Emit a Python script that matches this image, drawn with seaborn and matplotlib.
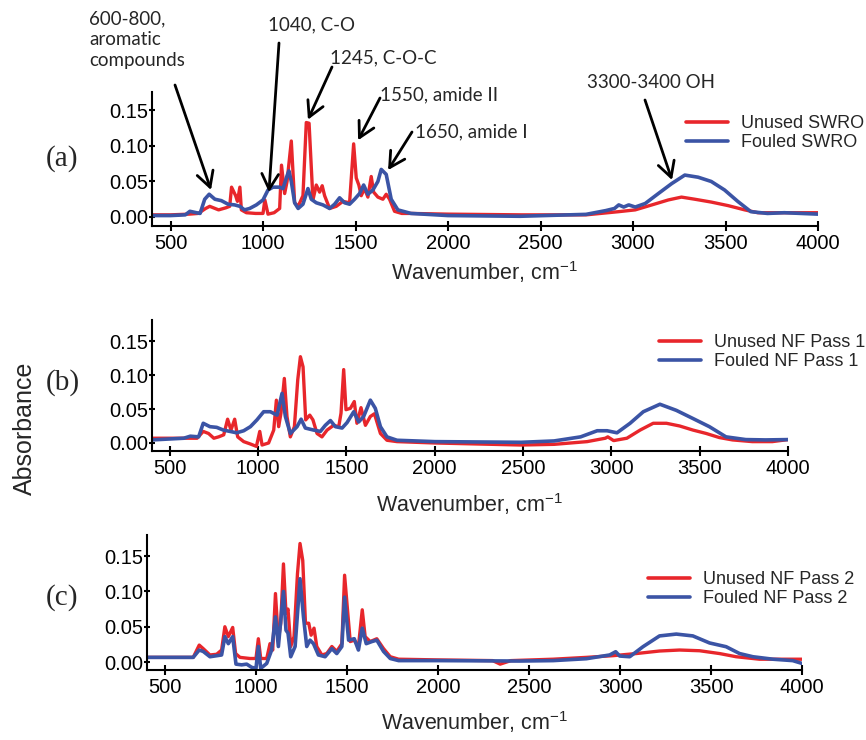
import pandas as pd
import matplotlib
matplotlib.use("Agg")
import matplotlib.pyplot as plt
import seaborn as sns

# ---- data (wavenumber, cm-1 / absorbance) ----
a_unused_wn = [400, 500, 600, 650, 690, 712, 760, 800, 820, 830, 852, 862, 875, 883, 910, 960, 1000,
               1010, 1027, 1060, 1090, 1100, 1117, 1130, 1153, 1171, 1190, 1216, 1234, 1249, 1270,
               1288, 1306, 1320, 1333, 1360, 1396, 1432, 1468, 1490, 1504, 1518, 1531, 1549, 1567,
               1585, 1598, 1621, 1648, 1666, 1684, 1711, 1750, 1800, 2000, 2400, 2746, 2923, 3012,
               3102, 3191, 3262, 3334, 3423, 3514, 3604, 3675, 3818, 4000]
a_unused = [0.003, 0.003, 0.004, 0.005, 0.012, 0.015, 0.010, 0.013, 0.015, 0.042, 0.030, 0.022, 0.042,
            0.010, 0.006, 0.005, 0.005, 0.024, 0.004, 0.006, 0.012, 0.073, 0.033, 0.050, 0.107, 0.020,
            0.015, 0.030, 0.133, 0.132, 0.024, 0.045, 0.035, 0.044, 0.030, 0.012, 0.015, 0.022, 0.020,
            0.103, 0.055, 0.045, 0.030, 0.040, 0.028, 0.057, 0.035, 0.028, 0.025, 0.032, 0.025, 0.008,
            0.005, 0.005, 0.004, 0.003, 0.003, 0.0075, 0.010, 0.017, 0.024, 0.028, 0.025, 0.021, 0.016,
            0.010, 0.006, 0.006, 0.006]

a_fouled_wn = [400, 500, 580, 605, 640, 660, 685, 709, 740, 775, 811, 847, 875, 900, 928, 964, 1000,
               1027, 1054, 1090, 1108, 1130, 1140, 1153, 1171, 1190, 1216, 1243, 1261, 1288, 1324,
               1360, 1387, 1414, 1441, 1468, 1495, 1522, 1544, 1567, 1594, 1621, 1639, 1666, 1693,
               1729, 1800, 2000, 2390, 2746, 2853, 2900, 2923, 2950, 2977, 3012, 3066, 3137, 3209,
               3280, 3352, 3423, 3495, 3566, 3637, 3727, 3818, 4000]
a_fouled = [0.002, 0.002, 0.003, 0.008, 0.006, 0.005, 0.025, 0.032, 0.025, 0.023, 0.018, 0.017, 0.015,
            0.010, 0.012, 0.017, 0.024, 0.038, 0.042, 0.042, 0.040, 0.058, 0.065, 0.050, 0.020, 0.012,
            0.018, 0.040, 0.025, 0.020, 0.017, 0.012, 0.018, 0.027, 0.020, 0.018, 0.025, 0.033, 0.045,
            0.032, 0.038, 0.050, 0.067, 0.060, 0.025, 0.010, 0.005, 0.002, 0.001, 0.0037, 0.009, 0.012,
            0.017, 0.014, 0.017, 0.014, 0.019, 0.033, 0.047, 0.059, 0.056, 0.050, 0.038, 0.022, 0.0075,
            0.005, 0.006, 0.004]

b_unused_wn = [400, 580, 655, 690, 720, 750, 777, 806, 828, 847, 868, 885, 919, 957, 991, 1010, 1023,
               1060, 1089, 1104, 1117, 1130, 1149, 1164, 1183, 1206, 1225, 1240, 1255, 1270, 1293,
               1311, 1334, 1362, 1391, 1428, 1457, 1470, 1485, 1498, 1523, 1545, 1560, 1583, 1608,
               1636, 1659, 1693, 1730, 1787, 2000, 2490, 2676, 2863, 2966, 2980, 3013, 3088, 3163,
               3237, 3312, 3387, 3462, 3537, 3611, 3686, 3798, 3911, 4000]
b_unused = [0.007, 0.007, 0.007, 0.017, 0.014, 0.007, 0.009, 0.012, 0.035, 0.019, 0.035, 0.009, 0.002,
            -0.0015, -0.005, 0.017, -0.003, 0.0, 0.019, 0.063, 0.024, 0.044, 0.095, 0.039, 0.009, 0.024,
            0.093, 0.127, 0.112, 0.034, 0.041, 0.034, 0.014, 0.009, 0.019, 0.026, 0.024, 0.044, 0.108,
            0.049, 0.051, 0.061, 0.029, 0.052, 0.026, 0.039, 0.043, 0.014, 0.004, 0.002, 0.0, -0.003,
            -0.002, 0.002, 0.007, 0.009, 0.0035, 0.007, 0.019, 0.029, 0.029, 0.025, 0.019, 0.014, 0.008,
            0.0045, 0.002, 0.002, 0.005]

b_fouled_wn = [400, 580, 617, 664, 690, 728, 766, 804, 842, 879, 919, 957, 994, 1032, 1070, 1108,
               1136, 1155, 1183, 1221, 1244, 1268, 1315, 1353, 1381, 1410, 1438, 1476, 1504, 1542,
               1570, 1598, 1636, 1664, 1693, 1730, 1787, 2000, 2490, 2676, 2826, 2920, 2976, 3032,
               3106, 3181, 3275, 3368, 3462, 3555, 3649, 3761, 3873, 4000]
b_fouled = [0.0045, 0.007, 0.010, 0.009, 0.029, 0.024, 0.023, 0.019, 0.017, 0.015, 0.018, 0.024, 0.034,
            0.046, 0.046, 0.041, 0.073, 0.039, 0.014, 0.024, 0.035, 0.022, 0.019, 0.017, 0.026, 0.033,
            0.024, 0.022, 0.030, 0.046, 0.031, 0.039, 0.063, 0.051, 0.024, 0.009, 0.004, 0.002, 0.001,
            0.003, 0.009, 0.018, 0.018, 0.015, 0.029, 0.046, 0.057, 0.048, 0.036, 0.024, 0.009, 0.005,
            0.0045, 0.005]

c_unused_wn = [400, 654, 687, 709, 746, 783, 810, 828, 847, 871, 887, 911, 966, 999, 1012, 1025, 1058,
               1076, 1091, 1106, 1122, 1135, 1150, 1164, 1175, 1190, 1208, 1227, 1241, 1256, 1271,
               1289, 1302, 1318, 1333, 1361, 1388, 1416, 1443, 1471, 1486, 1502, 1517, 1539, 1562,
               1583, 1599, 1627, 1663, 1700, 1737, 1783, 2000, 2300, 2341, 2400, 2632, 2815, 2961,
               3089, 3217, 3327, 3437, 3547, 3638, 3766, 3913, 4000]
c_unused = [0.0066, 0.0066, 0.024, 0.019, 0.010, 0.011, 0.017, 0.050, 0.036, 0.049, 0.012, 0.0066, 0.005,
            0.005, 0.033, 0.005, 0.005, 0.026, 0.017, 0.097, 0.031, 0.055, 0.139, 0.069, 0.075, 0.022,
            0.036, 0.125, 0.168, 0.144, 0.055, 0.055, 0.038, 0.048, 0.022, 0.010, 0.012, 0.022, 0.015,
            0.026, 0.123, 0.074, 0.029, 0.031, 0.022, 0.074, 0.036, 0.029, 0.033, 0.019, 0.0075, 0.004,
            0.003, 0.002, -0.003, 0.002, 0.004, 0.0066, 0.009, 0.012, 0.0156, 0.017, 0.016, 0.012,
            0.0075, 0.004, 0.004, 0.004]

c_fouled_wn = [400, 654, 687, 709, 746, 810, 828, 847, 871, 889, 920, 948, 975, 999, 1012, 1025, 1058,
               1085, 1106, 1122, 1150, 1164, 1175, 1190, 1214, 1241, 1260, 1278, 1296, 1315, 1342,
               1379, 1416, 1443, 1471, 1486, 1508, 1539, 1562, 1583, 1605, 1636, 1663, 1700, 1737,
               1783, 2000, 2449, 2632, 2815, 2943, 2976, 2998, 3053, 3126, 3217, 3309, 3400, 3492,
               3583, 3657, 3730, 3840, 3949, 4000]
c_fouled = [0.0066, 0.0066, 0.017, 0.015, 0.0075, 0.010, 0.036, 0.026, 0.036, -0.003, -0.004, -0.003,
            -0.0075, -0.009, 0.022, -0.009, -0.002, 0.017, 0.064, 0.022, 0.100, 0.045, 0.041, 0.0075,
            0.022, 0.118, 0.064, 0.022, 0.031, 0.026, 0.010, 0.0075, 0.019, 0.012, 0.022, 0.092, 0.031,
            0.033, 0.017, 0.048, 0.026, 0.029, 0.031, 0.015, 0.005, 0.002, 0.002, 0.0014, 0.002, 0.0047,
            0.010, 0.0146, 0.0085, 0.0075, 0.0217, 0.037, 0.0396, 0.037, 0.027, 0.0217, 0.012, 0.0075,
            0.004, 0.002, -0.002]

panel_tags = ["(a)", "(b)", "(c)"]
legend_names = [("Unused SWRO", "Fouled SWRO"),
                ("Unused NF Pass 1", "Fouled NF Pass 1"),
                ("Unused NF Pass 2", "Fouled NF Pass 2")]
x_ticks = [500, 1000, 1500, 2000, 2500, 3000, 3500, 4000]
y_ticks = [0.00, 0.05, 0.10, 0.15]

# annotations on panel (a): label, text position (px), arrow tail (px), arrow tip (data)
notes = [("600-800,\naromatic\ncompounds", (89, 10), (175, 85), (719, 0.038)),
         ("1040, C-O", (268, 25), (279, 43), (1032, 0.035)),
         ("1245, C-O-C", (330, 58), (332, 67), (1243, 0.137)),
         ("1550, amide II", (380, 95), (380, 98), (1514, 0.108)),
         ("1650, amide I", (415, 132), (412, 132), (1676, 0.066)),
         ("3300-3400 OH", (587, 82), (645, 100), (3211, 0.052))]

RED = "#e8262b"
BLUE = "#3b54a5"
W, H = 866, 740

sns.set_style("ticks")
plt.rcParams["font.family"] = ["Liberation Sans", "DejaVu Sans"]
plt.rcParams["mathtext.default"] = "regular"

fig = plt.figure(figsize=(W / 100, H / 100), dpi=100)


def fx(px):
    return px / W


def fy(py):
    return 1 - py / H


# axes boxes in pixels: left, top, right, bottom
boxes = [(152, 92, 818, 226), (152, 320, 788, 451), (147, 535, 802, 670)]
ylims = [(-0.0127, 0.176), (-0.0118, 0.181), (-0.0113, 0.180)]
tag_pos = [(62, 159), (63, 383), (62, 598)]
xlabel_base = [280, 512, 730]
legend_at = [(686, 115), (659, 334), (648, 571)]

series = [(a_unused_wn, a_unused, a_fouled_wn, a_fouled),
          (b_unused_wn, b_unused, b_fouled_wn, b_fouled),
          (c_unused_wn, c_unused, c_fouled_wn, c_fouled)]

axes = []
for i, (l, t, r, b) in enumerate(boxes):
    ax = fig.add_axes([fx(l), fy(b), (r - l) / W, (b - t) / H])
    uw, uv, fw, fv = series[i]
    du = pd.DataFrame({"wn": uw, "abs": uv})
    dfl = pd.DataFrame({"wn": fw, "abs": fv})
    sns.lineplot(data=du, x="wn", y="abs", color=RED, lw=2.4, label=legend_names[i][0],
                 ax=ax, sort=False, estimator=None)
    sns.lineplot(data=dfl, x="wn", y="abs", color=BLUE, lw=2.6, label=legend_names[i][1],
                 ax=ax, sort=False, estimator=None)
    ax.set_xlim(400, 4000)
    ax.set_ylim(*ylims[i])
    ax.set_xticks(x_ticks)
    ax.set_yticks(y_ticks)
    ax.set_yticklabels([f"{v:.2f}" for v in y_ticks])
    sns.despine(ax=ax)
    for s in ["left", "bottom"]:
        ax.spines[s].set_linewidth(1.5)
        ax.spines[s].set_color("black")
    ax.tick_params(axis="x", direction="inout", length=6.5, width=1.5, pad=2.5,
                   labelsize=14.5, colors="black")
    ax.tick_params(axis="y", direction="inout", length=4.5, width=1.5, pad=0.5,
                   labelsize=14.5, colors="black")
    ax.set_ylabel("")
    ax.set_xlabel("Wavenumber, cm$^{-1}$", fontsize=15.5)
    ax.xaxis.set_label_coords(0.5, (b - xlabel_base[i]) / (b - t))
    ax.xaxis.label.set_verticalalignment("baseline")
    lx, ly = legend_at[i]
    leg = ax.legend(loc="upper left", bbox_to_anchor=(fx(lx), fy(ly)), bbox_transform=fig.transFigure,
                    frameon=False, fontsize=13, borderpad=0, borderaxespad=0, handlelength=2.3,
                    handletextpad=0.75, labelspacing=0.12)
    for hl in leg.get_lines():
        hl.set_linewidth(2.6)
    fig.text(fx(tag_pos[i][0]), fy(tag_pos[i][1]), panel_tags[i], family="Liberation Serif",
             fontsize=21, ha="center", va="center")
    axes.append(ax)

fig.text(fx(25), fy(428), "Absorbance", rotation=90, fontsize=18, ha="center", va="center")

ax = axes[0]
for label, (tx, ty), (sx, sy), tip in notes:
    fig.text(fx(tx), fy(ty), label, family=["Lato", "DejaVu Sans"], fontsize=13.5,
             ha="left", va="top" if "\n" in label else "center", linespacing=1.3)
    ax.annotate("", xy=tip, xycoords="data", xytext=(sx, H - sy), textcoords="figure pixels",
                arrowprops=dict(arrowstyle="->,head_length=0.55,head_width=0.3", lw=2,
                                color="black", mutation_scale=20, shrinkA=0, shrinkB=0),
                annotation_clip=False)

fig.savefig("out.png", dpi=100)
